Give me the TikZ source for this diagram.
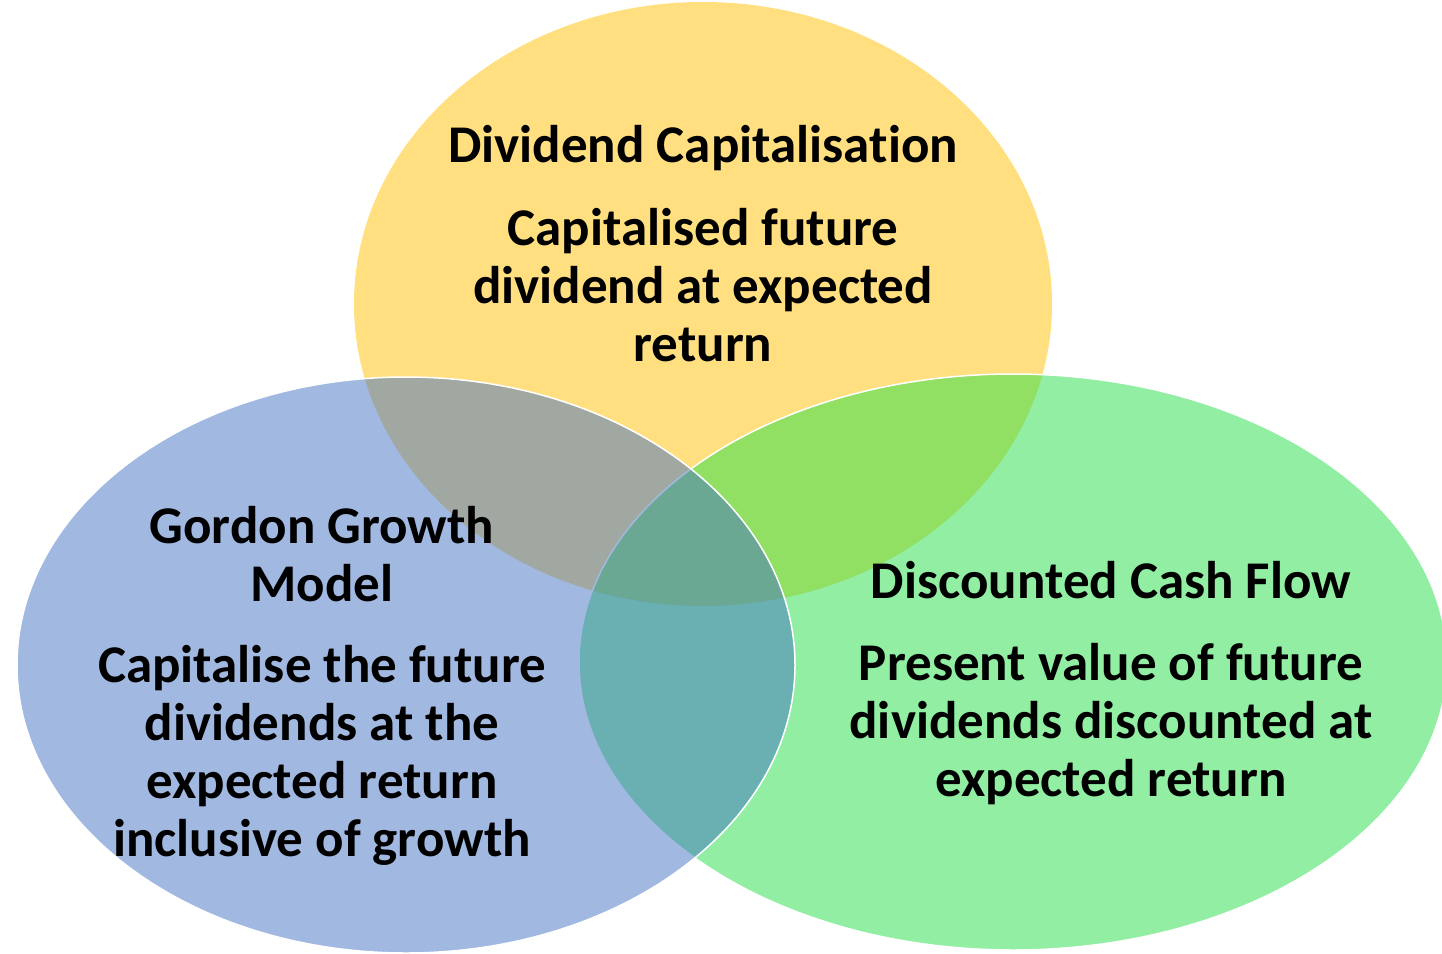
\documentclass[tikz,border=0pt]{standalone}
\usepackage{fontspec}
\setmainfont{Carlito}[Ligatures=NoCommon]
\usetikzlibrary{positioning}

\definecolor{capyellow}{RGB}{255,192,0}
\definecolor{gordonblue}{RGB}{68,114,196}
\definecolor{dcfgreen}{RGB}{36,222,72}

\begin{document}
\begin{tikzpicture}[x=1pt, y=-1pt, every node/.style={font=\fontsize{53}{58}\selectfont\bfseries, align=center, inner sep=0pt, anchor=base}, setshape/.style={fill opacity=0.5, line width=1.5pt}]

	\useasboundingbox (0,0) rectangle (1442,953);

	\fill[setshape, fill=capyellow] (703,304) ellipse [x radius=349pt, y radius=302pt];
	\filldraw[setshape, fill=dcfgreen, draw=white] (1013,662) ellipse [x radius=434pt, y radius=288pt];
	\filldraw[setshape, fill=gordonblue, draw=white] (406,665) ellipse [x radius=389pt, y radius=288pt];

	\node (divtitle) at (703,162) {Dividend Capitalisation};
	\node (divtext) at (703,361) {Capitalised future\\dividend at expected\\return};

	\node (gordontitle) at (322,601) {Gordon Growth\\Model};
	\node (gordontext) at (322,856) {Capitalise the future\\dividends at the\\expected return\\inclusive of growth};

	\node (dcftitle) at (1111,598) {Discounted Cash Flow};
	\node (dcftext) at (1111,796) {Present value of future\\dividends discounted at\\expected return};
\end{tikzpicture}
\end{document}
